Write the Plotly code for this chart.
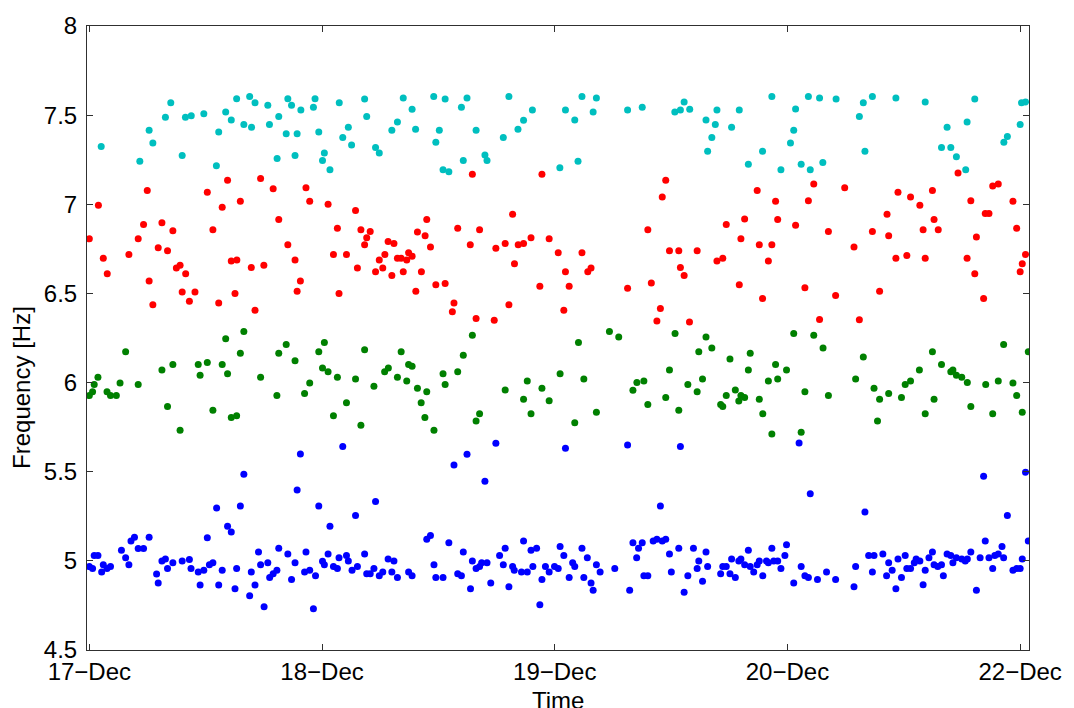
import plotly.graph_objects as go

# Time in days after 17-Dec 00:00, frequency in Hz
cyan_t = [0.051,0.217,0.257,0.273,0.327,0.350,0.399,0.413,0.438,0.492,0.546,0.556,0.586,0.610,0.633,0.664,0.689,0.697,0.712,0.767,
          0.774,0.807,0.814,0.846,0.853,0.869,0.884,0.893,0.909,0.963,0.970,0.986,1.002,1.010,1.034,1.074,1.089,1.113,1.127,1.183,
          1.192,1.230,1.246,1.300,1.324,1.349,1.387,1.402,1.480,1.489,1.504,1.520,1.529,1.545,1.599,1.607,1.623,1.662,1.700,1.709,
          1.779,1.803,1.842,1.866,1.904,2.022,2.046,2.086,2.100,2.117,2.165,2.179,2.313,2.376,2.516,2.540,2.556,2.580,2.650,2.657,
          2.675,2.690,2.697,2.760,2.793,2.832,2.893,2.933,2.972,3.013,3.027,3.035,3.059,3.090,3.098,3.138,3.152,3.209,3.309,3.326,
          3.333,3.365,3.466,3.592,3.662,3.686,3.702,3.726,3.766,3.772,3.805,3.930,3.945,4.000,4.006,4.023]
cyan_f = [7.324,7.242,7.415,7.344,7.488,7.570,7.274,7.488,7.497,7.508,7.216,7.406,7.518,7.473,7.592,7.447,7.605,7.432,7.570,7.555,
          7.447,7.257,7.492,7.395,7.592,7.555,7.274,7.395,7.529,7.544,7.592,7.406,7.246,7.287,7.194,7.570,7.374,7.432,7.333,7.590,
          7.492,7.318,7.287,7.415,7.462,7.596,7.533,7.421,7.605,7.348,7.415,7.194,7.590,7.183,7.544,7.246,7.596,7.415,7.277,7.246,
          7.374,7.605,7.421,7.471,7.529,7.205,7.529,7.473,7.242,7.605,7.518,7.596,7.529,7.544,7.518,7.529,7.574,7.533,7.473,7.298,
          7.374,7.447,7.529,7.432,7.529,7.225,7.298,7.605,7.194,7.344,7.415,7.535,7.225,7.605,7.194,7.596,7.235,7.590,7.492,7.570,
          7.298,7.605,7.596,7.574,7.318,7.432,7.318,7.266,7.194,7.462,7.590,7.348,7.380,7.447,7.570,7.574]

red_t = [0.000,0.039,0.060,0.077,0.170,0.210,0.233,0.249,0.257,0.273,0.296,0.312,0.336,0.359,0.374,0.390,0.399,0.414,0.430,0.454,
         0.507,0.531,0.556,0.571,0.594,0.610,0.626,0.634,0.649,0.696,0.712,0.736,0.750,0.790,0.814,0.853,0.884,0.893,0.907,0.931,
         0.947,1.026,1.066,1.049,1.073,1.105,1.144,1.152,1.167,1.183,1.192,1.207,1.230,1.246,1.261,1.270,1.284,1.300,1.309,1.324,
         1.340,1.349,1.364,1.372,1.387,1.403,1.410,1.427,1.443,1.450,1.466,1.489,1.529,1.560,1.567,1.583,1.637,1.646,1.662,1.677,
         1.740,1.747,1.787,1.803,1.819,1.827,1.843,1.866,1.898,1.936,1.945,1.976,2.015,2.039,2.046,2.062,2.117,2.142,2.156,2.313,
         2.400,2.415,2.439,2.454,2.462,2.477,2.493,2.533,2.540,2.556,2.579,2.612,2.697,2.722,2.737,2.793,2.800,2.816,2.870,2.879,
         2.893,2.918,2.933,2.949,2.958,3.035,3.075,3.090,3.113,3.138,3.176,3.207,3.246,3.286,3.309,3.365,3.396,3.428,3.435,3.466,
         3.475,3.513,3.529,3.569,3.583,3.592,3.623,3.630,3.648,3.733,3.772,3.788,3.805,3.812,3.843,3.850,3.866,3.882,3.906,3.969,
         3.985,4.000,4.009,4.023]
red_f = [6.806,6.994,6.698,6.611,6.719,6.806,6.886,7.078,6.570,6.436,6.756,6.897,6.739,6.851,6.642,6.658,6.508,6.611,6.456,6.508,
         7.067,6.857,6.447,6.983,7.135,6.682,6.499,6.687,7.017,6.646,6.406,7.144,6.658,7.087,6.914,6.773,6.687,6.512,6.570,7.093,
         7.017,7.000,6.866,6.719,6.499,6.719,6.965,6.642,6.857,6.773,6.812,6.847,6.622,6.687,6.642,6.719,6.791,6.601,6.780,6.698,
         6.698,6.622,6.687,6.728,6.709,6.512,6.844,6.622,6.823,6.914,6.760,6.549,6.555,6.397,6.447,6.866,6.773,7.169,6.359,6.857,
         6.350,6.754,6.780,6.437,6.944,6.667,6.773,6.780,6.812,6.540,7.169,6.806,6.728,6.406,6.622,6.540,6.728,6.622,6.642,6.529,
         6.857,6.559,6.345,6.415,7.041,7.135,6.739,6.739,6.646,6.601,6.340,6.739,6.682,6.698,6.886,6.549,6.806,6.918,7.078,6.773,
         6.471,6.682,6.773,7.017,6.914,6.883,6.532,7.020,7.114,6.354,6.847,6.488,7.093,6.760,6.352,6.847,6.512,6.944,6.823,6.698,
         7.067,6.713,7.041,6.994,6.857,6.698,7.078,6.914,6.857,7.175,6.698,7.020,6.611,6.816,6.471,6.948,6.948,7.102,7.114,7.017,
         6.866,6.622,6.667,6.719]

green_t = [0.000,0.014,0.021,0.037,0.076,0.091,0.116,0.132,0.156,0.210,0.312,0.336,0.359,0.390,0.468,0.476,0.507,0.531,0.571,0.586,
           0.594,0.610,0.633,0.649,0.664,0.736,0.806,0.814,0.846,0.884,0.925,0.947,0.986,1.002,1.010,1.026,1.049,1.066,1.105,1.144,
           1.167,1.183,1.223,1.269,1.285,1.324,1.340,1.364,1.372,1.387,1.410,1.426,1.442,1.450,1.481,1.520,1.529,1.583,1.607,1.646,
           1.662,1.677,1.787,1.866,1.882,1.898,1.945,1.976,2.023,2.086,2.102,2.125,2.179,2.235,2.275,2.336,2.353,2.383,2.400,2.477,
           2.493,2.517,2.533,2.572,2.612,2.619,2.635,2.650,2.675,2.713,2.722,2.737,2.753,2.776,2.791,2.800,2.816,2.832,2.840,2.879,
           2.894,2.918,2.933,2.949,2.958,2.996,3.027,3.059,3.075,3.113,3.153,3.176,3.293,3.326,3.372,3.387,3.396,3.435,3.490,3.506,
           3.529,3.567,3.592,3.623,3.630,3.662,3.702,3.711,3.726,3.749,3.773,3.788,3.852,3.882,3.906,3.929,3.969,3.985,4.009,4.035]
green_f = [5.927,5.948,5.989,6.030,5.948,5.927,5.927,5.998,6.173,5.989,6.071,5.866,6.102,5.732,6.102,6.041,6.112,5.845,6.102,6.246,
           6.050,5.804,5.814,6.164,6.287,6.030,5.927,6.164,6.214,6.123,5.939,5.998,6.173,6.082,6.225,6.061,5.814,6.030,5.887,6.020,
           5.761,6.184,5.979,6.060,6.082,6.030,6.173,6.009,6.102,6.091,5.968,5.887,5.804,5.948,5.732,6.050,5.989,6.061,6.153,6.266,
           5.784,5.825,5.959,5.907,6.009,5.825,5.968,5.898,6.050,5.775,6.225,6.020,5.834,6.287,6.255,5.957,6.000,6.009,5.877,5.916,
           6.071,6.275,5.845,5.989,5.948,6.173,6.020,6.255,6.194,5.877,5.866,5.927,6.132,5.959,5.896,5.927,5.916,6.071,6.164,5.907,
           5.825,6.009,5.711,6.102,6.020,6.071,6.275,5.722,5.948,6.266,6.194,5.927,6.020,6.144,5.968,5.784,5.907,5.939,5.916,5.989,
           6.009,6.071,5.825,6.173,5.907,6.102,6.061,6.071,6.041,6.030,6.000,5.866,5.989,5.825,6.009,6.214,5.998,5.927,5.834,6.173]

blue_t = [0.000,0.014,0.021,0.037,0.053,0.060,0.076,0.091,0.138,0.156,0.170,0.179,0.194,0.210,0.233,0.257,0.289,0.296,0.312,0.327,
          0.336,0.359,0.399,0.430,0.437,0.468,0.476,0.492,0.507,0.516,0.531,0.547,0.556,0.571,0.594,0.610,0.626,0.633,0.649,0.664,
          0.689,0.696,0.712,0.727,0.736,0.751,0.767,0.775,0.790,0.806,0.814,0.853,0.869,0.884,0.893,0.907,0.925,0.931,0.947,0.963,
          0.972,0.986,1.002,1.010,1.026,1.034,1.049,1.066,1.073,1.089,1.105,1.113,1.129,1.144,1.152,1.183,1.192,1.207,1.223,1.230,
          1.246,1.261,1.284,1.300,1.309,1.324,1.372,1.387,1.450,1.466,1.481,1.489,1.520,1.545,1.567,1.583,1.599,1.607,1.623,1.638,
          1.646,1.662,1.677,1.686,1.700,1.709,1.725,1.747,1.763,1.779,1.787,1.803,1.819,1.826,1.857,1.866,1.882,1.898,1.906,1.922,
          1.936,1.945,1.960,1.976,1.999,2.015,2.023,2.039,2.046,2.062,2.077,2.086,2.117,2.125,2.140,2.156,2.165,2.179,2.195,2.258,
          2.313,2.322,2.336,2.352,2.360,2.376,2.383,2.400,2.423,2.439,2.454,2.462,2.477,2.493,2.501,2.533,2.540,2.556,2.572,2.596,
          2.612,2.619,2.635,2.650,2.657,2.713,2.722,2.737,2.753,2.760,2.776,2.791,2.800,2.816,2.832,2.840,2.855,2.870,2.879,2.894,
          2.910,2.918,2.933,2.941,2.958,2.972,2.989,2.996,3.027,3.050,3.059,3.075,3.090,3.098,3.129,3.168,3.207,3.286,3.293,3.333,
          3.349,3.365,3.372,3.410,3.426,3.435,3.450,3.466,3.475,3.490,3.506,3.513,3.529,3.545,3.553,3.569,3.583,3.592,3.608,3.623,
          3.630,3.646,3.662,3.670,3.686,3.702,3.711,3.726,3.749,3.764,3.773,3.788,3.812,3.828,3.843,3.850,3.866,3.882,3.891,3.906,
          3.922,3.929,3.945,3.969,3.985,4.000,4.009,4.023,4.035]
blue_f = [4.968,4.957,5.030,5.030,4.937,4.978,4.957,4.968,5.059,5.018,4.978,5.112,5.133,5.069,5.069,5.133,4.926,4.876,4.999,5.010,
          4.957,4.989,4.999,5.008,4.957,4.937,4.864,4.948,5.130,4.978,4.989,5.296,4.864,4.948,5.194,5.162,4.844,4.957,5.307,5.486,
          4.804,4.937,4.864,5.050,4.978,4.743,4.989,4.907,4.927,4.948,5.071,5.039,4.895,4.989,5.398,5.599,4.937,5.050,4.948,4.732,
          4.916,5.307,4.998,4.978,5.039,5.194,4.968,4.957,5.018,5.641,5.030,4.999,4.948,5.255,4.968,5.039,4.927,4.927,4.957,5.333,
          4.916,4.937,5.010,4.937,4.999,4.907,4.937,4.916,5.121,5.142,4.978,4.907,4.907,5.101,5.538,4.927,4.916,5.050,5.598,4.844,
          4.999,4.957,4.968,4.989,5.447,4.989,4.876,5.659,5.030,4.978,5.071,4.855,4.968,4.948,4.937,5.112,4.937,5.059,4.968,5.071,
          4.754,4.895,4.968,4.937,4.968,4.957,5.080,5.030,5.631,4.907,4.989,4.968,5.071,4.907,5.018,4.876,4.835,4.978,4.937,4.957,
          5.650,4.835,5.101,5.018,5.071,5.101,4.916,4.916,5.112,5.121,5.307,5.112,5.121,5.039,4.937,5.071,5.641,4.824,4.916,5.071,
          4.957,4.999,4.885,5.050,4.968,4.927,4.968,4.968,4.927,5.010,4.907,4.999,5.010,4.978,5.059,4.968,4.937,4.978,4.999,4.916,
          4.999,4.989,5.071,4.999,4.999,4.957,5.030,5.090,4.876,5.661,4.968,4.916,4.907,5.377,4.895,4.937,4.895,4.855,4.968,5.274,
          5.030,4.937,5.030,5.039,4.916,4.989,4.948,4.844,5.010,4.907,5.030,4.957,4.957,4.989,5.010,4.999,4.866,4.948,5.018,5.050,
          4.978,4.968,4.978,4.916,5.039,5.030,4.989,5.018,5.010,4.999,5.010,5.050,4.835,5.018,5.475,5.112,5.018,4.957,5.030,5.039,
          5.080,5.018,5.255,4.948,4.957,4.957,5.010,5.497,5.112]

tick_pos = [0, 1, 2, 3, 4]
tick_text = ["17\u2212Dec", "18\u2212Dec", "19\u2212Dec", "20\u2212Dec", "22\u2212Dec"]
y_ticks = [4.5, 5, 5.5, 6, 6.5, 7, 7.5, 8]
y_text = ["4.5", "5", "5.5", "6", "6.5", "7", "7.5", "8"]

series = [
    (cyan_t, cyan_f, "#00BFBF"),
    (red_t, red_f, "#FF0000"),
    (green_t, green_f, "#008000"),
    (blue_t, blue_f, "#0000FF"),
]

fig = go.Figure()
for t, f, c in series:
    fig.add_trace(go.Scatter(x=t, y=f, mode="markers",
                             marker=dict(color=c, size=7, line=dict(width=0)),
                             showlegend=False, hoverinfo="x+y"))

font = dict(family="Liberation Sans, Arial, Helvetica, sans-serif", size=24, color="black")
axis_common = dict(showline=True, linecolor="#303030", linewidth=1, mirror="ticks",
                   ticks="inside", ticklen=6, tickcolor="#303030",
                   showgrid=False, zeroline=False, tickfont=font)

fig.update_layout(
    width=1074, height=708,
    margin=dict(l=87, r=43, t=24, b=58),
    paper_bgcolor="white", plot_bgcolor="white",
    xaxis=dict(range=[-0.01, 4.038], tickvals=tick_pos, ticktext=tick_text,
               ticklabelstandoff=0, **axis_common),
    yaxis=dict(range=[4.5, 8], tickvals=y_ticks, ticktext=y_text,
               ticklabelstandoff=4, **axis_common),
    annotations=[
        dict(text="Time", x=0.5, y=-0.056, xref="paper", yref="paper", xanchor="center", yanchor="top",
             showarrow=False, font=font),
        dict(text="Frequency [Hz]", x=-0.069, y=0.42, xref="paper", yref="paper", xanchor="center",
             yanchor="middle", textangle=-90, showarrow=False, font=font),
    ],
)

fig.write_html("out.html")
